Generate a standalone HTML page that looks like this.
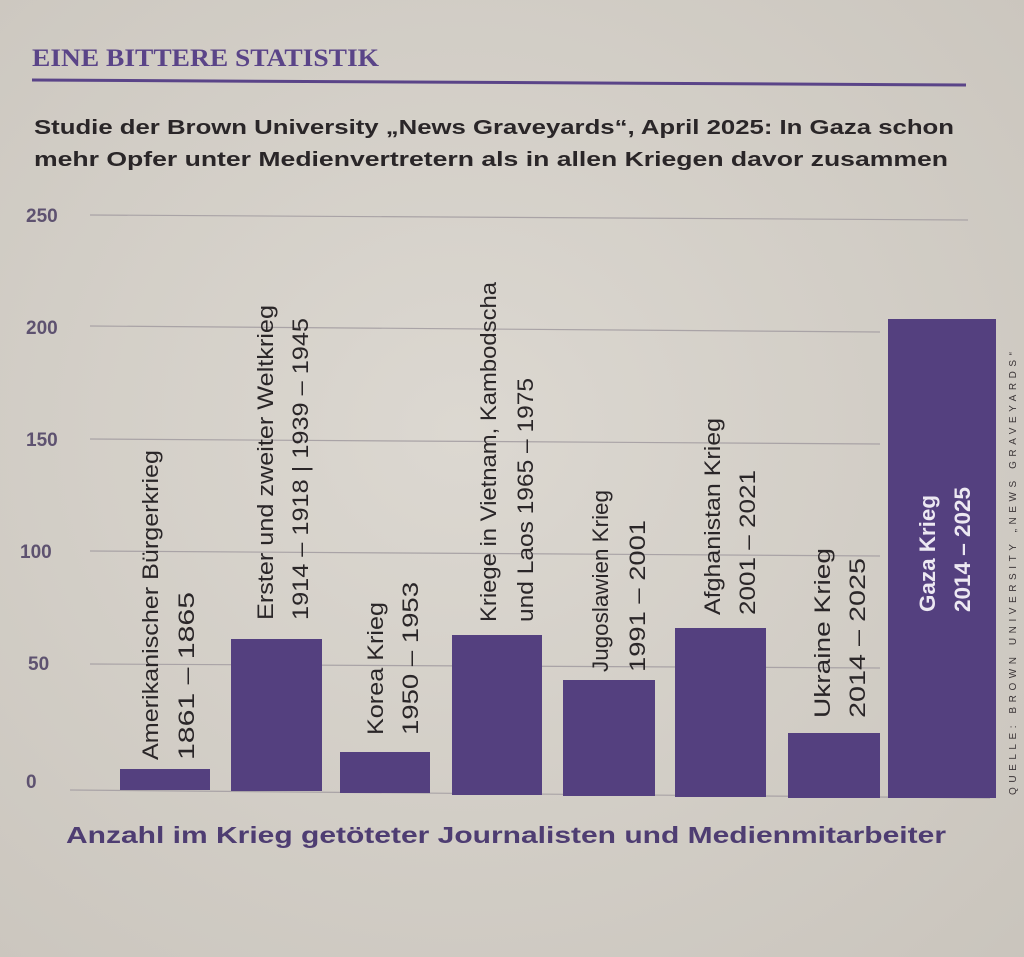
<!DOCTYPE html>
<html><head><meta charset="utf-8"><style>
html,body{margin:0;padding:0;}
body{width:1024px;height:957px;overflow:hidden;background:#d4cfc7;}
svg{display:block}
</style></head><body>
<svg width="1024" height="957" viewBox="0 0 1024 957" xmlns="http://www.w3.org/2000/svg">
<defs>
<radialGradient id="bg" cx="0.45" cy="0.45" r="0.8">
<stop offset="0" stop-color="#dcd8d1"/>
<stop offset="1" stop-color="#c9c4bc"/>
</radialGradient>
</defs>
<rect width="1024" height="957" fill="url(#bg)"/>
<g font-family="Liberation Sans, sans-serif">
<text x="32" y="66" font-family="Liberation Serif, serif" font-weight="bold" font-size="25" fill="#5a4488" textLength="347" lengthAdjust="spacingAndGlyphs">EINE BITTERE STATISTIK</text>
<line x1="32" y1="80" x2="966" y2="85" stroke="#5a4488" stroke-width="3"/>
<text x="34" y="134" font-weight="bold" font-size="20" fill="#2a2628" textLength="920" lengthAdjust="spacingAndGlyphs">Studie der Brown University „News Graveyards“, April 2025: In Gaza schon</text>
<text x="34" y="166" font-weight="bold" font-size="20" fill="#2a2628" textLength="914" lengthAdjust="spacingAndGlyphs">mehr Opfer unter Medienvertretern als in allen Kriegen davor zusammen</text>
<g font-weight="bold" font-size="19" fill="#5e5270">
<text x="26" y="222">250</text>
<text x="26" y="334">200</text>
<text x="26" y="446">150</text>
<text x="20" y="558">100</text>
<text x="28" y="670">50</text>
<text x="26" y="788">0</text>
</g>
<g stroke="#a9a3a6" stroke-width="1.2">
<line x1="90" y1="215" x2="968" y2="220"/>
<line x1="90" y1="326" x2="880" y2="332"/>
<line x1="90" y1="439" x2="880" y2="444"/>
<line x1="90" y1="551" x2="880" y2="556"/>
<line x1="90" y1="664" x2="880" y2="668"/>
<line x1="70" y1="790" x2="990" y2="798"/>
</g>
<g fill="#54407f">
<rect x="120" y="769" width="90" height="21"/>
<rect x="231" y="639" width="91" height="152"/>
<rect x="340" y="752" width="90" height="41"/>
<rect x="452" y="635" width="90" height="160"/>
<rect x="563" y="680" width="92" height="116"/>
<rect x="675" y="628" width="91" height="169"/>
<rect x="788" y="733" width="92" height="65"/>
<rect x="888" y="319" width="108" height="479"/>
</g>
<g font-size="22" fill="#2a2628">
<text transform="translate(158,760) rotate(-90)" textLength="310" lengthAdjust="spacingAndGlyphs">Amerikanischer Bürgerkrieg</text>
<text transform="translate(194,760) rotate(-90)" textLength="168" lengthAdjust="spacingAndGlyphs">1861 – 1865</text>
<text transform="translate(273,620) rotate(-90)" textLength="315" lengthAdjust="spacingAndGlyphs">Erster und zweiter Weltkrieg</text>
<text transform="translate(308,620) rotate(-90)" textLength="302" lengthAdjust="spacingAndGlyphs">1914 – 1918 | 1939 – 1945</text>
<text transform="translate(383,735) rotate(-90)" textLength="133" lengthAdjust="spacingAndGlyphs">Korea Krieg</text>
<text transform="translate(418,735) rotate(-90)" textLength="153" lengthAdjust="spacingAndGlyphs">1950 – 1953</text>
<text transform="translate(496,622) rotate(-90)" textLength="340" lengthAdjust="spacingAndGlyphs">Kriege in Vietnam, Kambodscha</text>
<text transform="translate(533,622) rotate(-90)" textLength="244" lengthAdjust="spacingAndGlyphs">und Laos 1965 – 1975</text>
<text transform="translate(608,672) rotate(-90)" textLength="182" lengthAdjust="spacingAndGlyphs">Jugoslawien Krieg</text>
<text transform="translate(645,672) rotate(-90)" textLength="152" lengthAdjust="spacingAndGlyphs">1991 – 2001</text>
<text transform="translate(720,615) rotate(-90)" textLength="197" lengthAdjust="spacingAndGlyphs">Afghanistan Krieg</text>
<text transform="translate(755,615) rotate(-90)" textLength="145" lengthAdjust="spacingAndGlyphs">2001 – 2021</text>
<text transform="translate(830,718) rotate(-90)" textLength="170" lengthAdjust="spacingAndGlyphs">Ukraine Krieg</text>
<text transform="translate(865,718) rotate(-90)" textLength="160" lengthAdjust="spacingAndGlyphs">2014 – 2025</text>
</g>
<g font-size="22" font-weight="bold" fill="#ece8f2">
<text transform="translate(935,612) rotate(-90)" textLength="117" lengthAdjust="spacingAndGlyphs">Gaza Krieg</text>
<text transform="translate(970,612) rotate(-90)" textLength="125" lengthAdjust="spacingAndGlyphs">2014 – 2025</text>
</g>
<text transform="translate(1016,795) rotate(-90)" font-size="10" fill="#3a3436" textLength="445" lengthAdjust="spacing" letter-spacing="2">QUELLE: BROWN UNIVERSITY „NEWS GRAVEYARDS“</text>
<text x="66" y="843" font-weight="bold" font-size="23" fill="#4e3d72" textLength="880" lengthAdjust="spacingAndGlyphs">Anzahl im Krieg getöteter Journalisten und Medienmitarbeiter</text>
</g>
</svg>
</body></html>
